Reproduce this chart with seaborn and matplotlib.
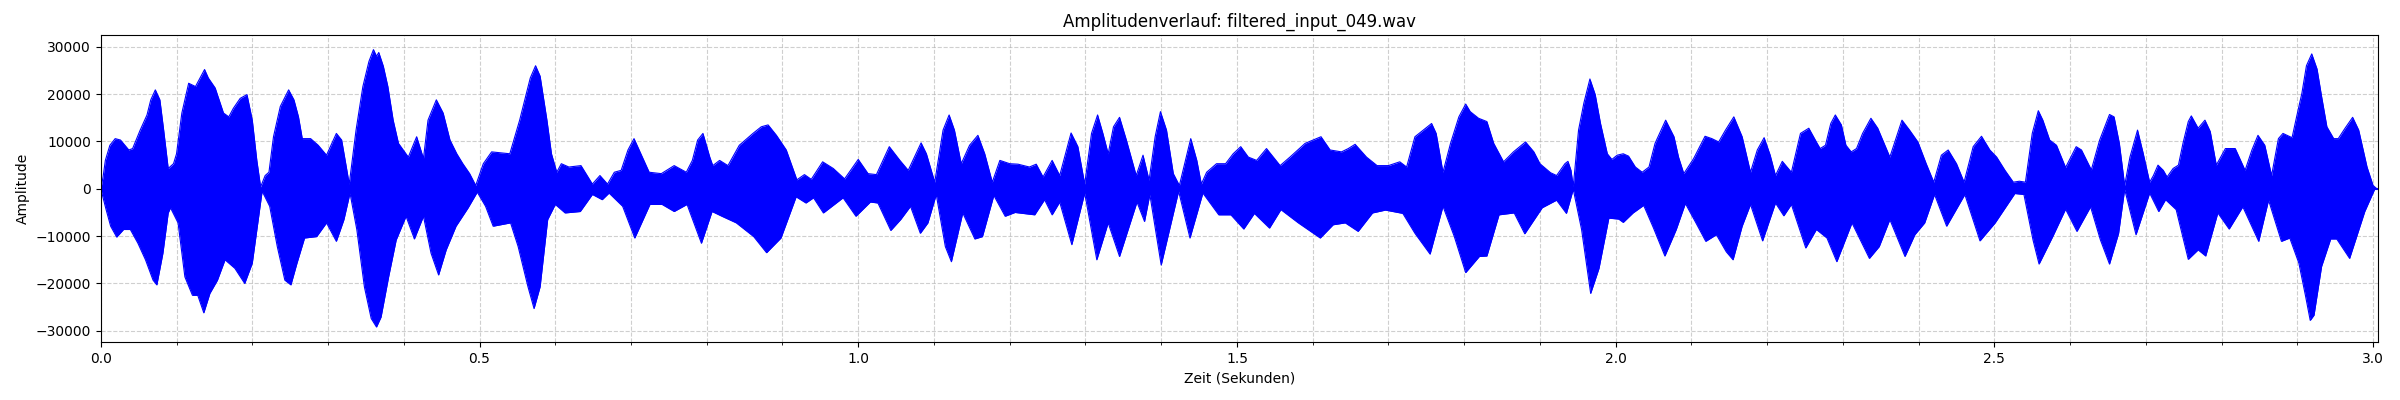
import matplotlib
matplotlib.use("Agg")
import matplotlib.pyplot as plt
from matplotlib.ticker import MultipleLocator
import seaborn as sns
import pandas as pd

# Envelope of the waveform (time in s, amplitude)
upper_t = [0.000, 0.003, 0.006, 0.012, 0.019, 0.026, 0.037, 0.042, 0.052, 0.061, 0.066, 0.072, 0.078, 0.083, 0.089, 0.096,
           0.100, 0.107, 0.116, 0.125, 0.131, 0.137, 0.142, 0.151, 0.162, 0.169, 0.175, 0.184, 0.193, 0.200, 0.206, 0.211,
           0.217, 0.222, 0.228, 0.237, 0.248, 0.255, 0.261, 0.266, 0.277, 0.287, 0.298, 0.311, 0.318, 0.328, 0.337, 0.346,
           0.354, 0.360, 0.364, 0.367, 0.373, 0.379, 0.386, 0.393, 0.406, 0.417, 0.426, 0.432, 0.443, 0.452, 0.461, 0.470,
           0.478, 0.487, 0.495, 0.505, 0.516, 0.540, 0.553, 0.567, 0.574, 0.580, 0.589, 0.595, 0.602, 0.608, 0.618, 0.634,
           0.649, 0.659, 0.669, 0.678, 0.687, 0.696, 0.704, 0.713, 0.724, 0.740, 0.757, 0.773, 0.781, 0.788, 0.795, 0.804,
           0.808, 0.817, 0.828, 0.843, 0.861, 0.872, 0.881, 0.892, 0.905, 0.919, 0.929, 0.938, 0.953, 0.967, 0.982, 1.000,
           1.013, 1.024, 1.041, 1.055, 1.066, 1.083, 1.090, 1.101, 1.112, 1.120, 1.127, 1.136, 1.147, 1.158, 1.167, 1.177,
           1.187, 1.200, 1.211, 1.226, 1.235, 1.244, 1.256, 1.266, 1.281, 1.290, 1.299, 1.308, 1.316, 1.323, 1.330, 1.337,
           1.345, 1.354, 1.367, 1.376, 1.384, 1.392, 1.399, 1.407, 1.416, 1.424, 1.433, 1.439, 1.447, 1.453, 1.460, 1.473,
           1.485, 1.495, 1.505, 1.515, 1.526, 1.539, 1.557, 1.570, 1.590, 1.611, 1.623, 1.638, 1.647, 1.656, 1.671, 1.685,
           1.700, 1.715, 1.724, 1.735, 1.746, 1.757, 1.763, 1.772, 1.782, 1.793, 1.802, 1.808, 1.819, 1.830, 1.839, 1.852,
           1.865, 1.881, 1.892, 1.900, 1.914, 1.922, 1.933, 1.937, 1.941, 1.944, 1.951, 1.958, 1.966, 1.973, 1.980, 1.989,
           1.995, 2.002, 2.010, 2.017, 2.026, 2.035, 2.044, 2.052, 2.066, 2.077, 2.083, 2.090, 2.103, 2.118, 2.127, 2.136,
           2.145, 2.156, 2.167, 2.178, 2.187, 2.196, 2.204, 2.211, 2.220, 2.232, 2.244, 2.255, 2.266, 2.270, 2.277, 2.284,
           2.290, 2.298, 2.304, 2.311, 2.318, 2.326, 2.337, 2.346, 2.362, 2.370, 2.378, 2.388, 2.399, 2.410, 2.420, 2.430,
           2.439, 2.450, 2.460, 2.472, 2.483, 2.494, 2.503, 2.514, 2.525, 2.533, 2.541, 2.550, 2.558, 2.564, 2.573, 2.582,
           2.594, 2.608, 2.615, 2.628, 2.639, 2.652, 2.658, 2.665, 2.672, 2.679, 2.689, 2.696, 2.705, 2.710, 2.716, 2.723,
           2.728, 2.736, 2.743, 2.749, 2.756, 2.760, 2.769, 2.778, 2.785, 2.793, 2.805, 2.818, 2.824, 2.831, 2.840, 2.848,
           2.857, 2.866, 2.875, 2.881, 2.893, 2.899, 2.906, 2.912, 2.919, 2.926, 2.932, 2.939, 2.948, 2.954, 2.963, 2.973,
           2.981, 2.992, 3.000, 3.005]
upper_v = [0, 2500, 6000, 9200, 10600, 10300, 8200, 8500, 12400, 15600, 18800, 20900, 18800, 12400, 4300, 5300,
           7400, 16000, 22300, 21600, 23400, 25200, 23400, 21300, 16000, 15200, 17000, 19100, 19900, 14500, 6000, 400,
           2800, 3500, 11000, 17400, 20900, 18800, 15200, 10600, 10600, 9200, 7100, 11700, 10300, 1000, 12400, 21600,
           26900, 29400, 28000, 28800, 25900, 21600, 14500, 9600, 6700, 11000, 6400, 14500, 18800, 16000, 10300, 7400,
           5300, 3200, 700, 5300, 7800, 7400, 14500, 23400, 26000, 23800, 14500, 7400, 3500, 5300, 4600, 4900,
           1000, 2800, 1000, 3500, 3900, 8200, 10600, 7400, 3500, 3200, 4900, 3500, 6000, 10300, 11700, 6700,
           4900, 6000, 4900, 9200, 11700, 13100, 13500, 11300, 8200, 1900, 3000, 2000, 5700, 4300, 2100, 6200,
           3200, 3000, 8900, 6000, 3900, 9700, 7400, 1400, 12400, 15600, 12400, 5300, 9200, 11300, 7400, 1400,
           6000, 5300, 5200, 4600, 5200, 2500, 6000, 2800, 11800, 8900, 1000, 11700, 15600, 11700, 7400, 13100,
           15100, 10300, 2800, 7100, 1800, 11000, 16300, 12400, 3200, 700, 6700, 10600, 6000, 1000, 3500, 5300,
           5300, 7400, 8900, 6700, 6000, 8500, 4900, 6700, 9600, 11000, 8200, 7800, 8500, 9400, 6700, 4900,
           4900, 5700, 4600, 11000, 12400, 13800, 11700, 3500, 9600, 15200, 17900, 16300, 14900, 14200, 9600, 5700,
           7800, 9900, 7800, 5300, 3400, 2800, 5300, 5800, 3900, 500, 12400, 18100, 23200, 19900, 13800, 7400,
           6200, 7100, 7400, 6900, 4600, 3500, 4600, 9600, 14500, 11000, 6700, 3200, 6400, 11100, 10600, 9900,
           12400, 15200, 11000, 3500, 8200, 10800, 7100, 2800, 5800, 3500, 11700, 12800, 9600, 8500, 9200, 13800,
           15600, 13500, 9200, 7800, 8500, 11700, 14900, 12800, 6700, 10600, 14500, 12400, 9900, 5300, 1400, 7100,
           8200, 5300, 1400, 8900, 11100, 8200, 6700, 3900, 1400, 1600, 1400, 11700, 16500, 14500, 10300, 9200,
           4500, 8900, 8200, 4000, 10300, 15700, 15200, 9600, 700, 6700, 12400, 7800, 1400, 2800, 5000, 3900,
           2500, 4300, 5000, 9600, 14200, 15400, 12800, 14500, 12100, 5000, 8500, 8500, 6400, 3900, 8200, 11300,
           9200, 2800, 10600, 11700, 10800, 15200, 20200, 26000, 28500, 25300, 19500, 13100, 10600, 10600, 12800, 15100,
           12400, 4600, 700, 0]

lower_t = [0.000, 0.007, 0.013, 0.021, 0.030, 0.039, 0.049, 0.059, 0.069, 0.074, 0.082, 0.089, 0.092, 0.102, 0.111, 0.121,
           0.128, 0.136, 0.144, 0.154, 0.164, 0.177, 0.190, 0.200, 0.213, 0.223, 0.233, 0.243, 0.251, 0.259, 0.269, 0.285,
           0.298, 0.311, 0.321, 0.329, 0.338, 0.348, 0.357, 0.364, 0.370, 0.380, 0.390, 0.403, 0.414, 0.426, 0.436, 0.446,
           0.456, 0.469, 0.485, 0.497, 0.508, 0.518, 0.541, 0.551, 0.564, 0.572, 0.580, 0.590, 0.600, 0.613, 0.633, 0.649,
           0.662, 0.671, 0.689, 0.705, 0.725, 0.741, 0.757, 0.774, 0.793, 0.807, 0.820, 0.839, 0.862, 0.879, 0.898, 0.918,
           0.931, 0.941, 0.954, 0.980, 0.997, 1.016, 1.026, 1.043, 1.056, 1.069, 1.082, 1.092, 1.103, 1.115, 1.123, 1.138,
           1.154, 1.164, 1.179, 1.194, 1.207, 1.233, 1.246, 1.256, 1.266, 1.282, 1.299, 1.315, 1.330, 1.345, 1.368, 1.378,
           1.385, 1.400, 1.423, 1.438, 1.455, 1.476, 1.492, 1.509, 1.523, 1.543, 1.558, 1.581, 1.610, 1.627, 1.643, 1.660,
           1.679, 1.696, 1.719, 1.735, 1.755, 1.772, 1.787, 1.802, 1.820, 1.830, 1.846, 1.866, 1.880, 1.903, 1.922, 1.935,
           1.944, 1.955, 1.967, 1.978, 1.991, 2.004, 2.010, 2.023, 2.037, 2.050, 2.065, 2.080, 2.092, 2.106, 2.119, 2.133,
           2.146, 2.155, 2.167, 2.178, 2.194, 2.211, 2.222, 2.232, 2.251, 2.265, 2.279, 2.292, 2.312, 2.335, 2.348, 2.362,
           2.382, 2.395, 2.408, 2.421, 2.437, 2.461, 2.481, 2.501, 2.527, 2.539, 2.551, 2.559, 2.577, 2.594, 2.609, 2.627,
           2.640, 2.652, 2.664, 2.672, 2.687, 2.705, 2.717, 2.726, 2.740, 2.756, 2.769, 2.779, 2.795, 2.810, 2.828, 2.849,
           2.862, 2.879, 2.890, 2.902, 2.911, 2.917, 2.922, 2.932, 2.944, 2.952, 2.969, 2.989, 3.002]
lower_v = [0, -4400, -7900, -10200, -8600, -8600, -11500, -15000, -19300, -20300, -13600, -5100, -4000, -7200, -18600, -22500,
           -22500, -26200, -22100, -19300, -15000, -16800, -20000, -15700, -500, -3700, -12200, -19300, -20300, -15700, -10400, -10100,
           -7200, -11100, -6500, -900, -8600, -20700, -27400, -29200, -27100, -18600, -10800, -5800, -10600, -5800, -13600, -18200,
           -12900, -7900, -4000, -700, -3700, -7900, -7200, -12200, -20700, -25300, -20700, -6500, -3300, -5100, -4800, -1200,
           -2300, -900, -3700, -10400, -3300, -3300, -4800, -3300, -11500, -4800, -5800, -7200, -10100, -13500, -10400, -1700,
           -3000, -1900, -5100, -1900, -5800, -2800, -3000, -8800, -6500, -3700, -9400, -7200, -1200, -12200, -15400, -5100,
           -10600, -10100, -1400, -5800, -5000, -5500, -2300, -5500, -2800, -11800, -900, -15000, -7200, -14300, -2800, -6900,
           -1200, -16100, -500, -10400, -900, -5500, -5500, -8500, -5200, -8300, -4400, -7200, -10400, -7600, -7200, -9000,
           -5100, -4500, -5200, -9400, -13800, -3700, -10100, -17700, -14300, -14200, -5500, -5100, -9500, -4000, -2400, -5200,
           -100, -8600, -22100, -16800, -6200, -6400, -7100, -5100, -3500, -8300, -14200, -8600, -3100, -7200, -11100, -9700,
           -13300, -15000, -7900, -3300, -11000, -3000, -5700, -3300, -12500, -8600, -10400, -15400, -7200, -14700, -12200, -6500,
           -14300, -9700, -7200, -1200, -7900, -1200, -11000, -7200, -1000, -1200, -10800, -15900, -10100, -4300, -9000, -3800,
           -10800, -15900, -9400, -100, -9700, -900, -4800, -2300, -4400, -14900, -12900, -14200, -5100, -8500, -3800, -11100,
           -2400, -11100, -10400, -15700, -22800, -27800, -26700, -16400, -10600, -10600, -14700, -4800, -100]

title_text = "Amplitudenverlauf: filtered_input_049.wav"
x_label = "Zeit (Sekunden)"
y_label = "Amplitude"

upper_df = pd.DataFrame({"Zeit": upper_t, "Amplitude": upper_v})
lower_df = pd.DataFrame({"Zeit": lower_t, "Amplitude": lower_v})

fig = plt.figure(figsize=(24, 4), dpi=100)
ax = fig.add_axes([0.042, 0.144, 0.949, 0.768])

wave_color = "#0000ff"
ax.fill_between(upper_df["Zeit"], 0, upper_df["Amplitude"], color=wave_color, linewidth=0)
ax.fill_between(lower_df["Zeit"], lower_df["Amplitude"], 0, color=wave_color, linewidth=0)
sns.lineplot(data=upper_df, x="Zeit", y="Amplitude", color=wave_color, linewidth=0.8,
             sort=False, estimator=None, ax=ax)
sns.lineplot(data=lower_df, x="Zeit", y="Amplitude", color=wave_color, linewidth=0.8,
             sort=False, estimator=None, ax=ax)
ax.axhline(0, color=wave_color, linewidth=1.5, zorder=2)

ax.set_xlim(0, 3.007)
ax.set_ylim(-32450, 32450)
ax.xaxis.set_major_locator(MultipleLocator(0.5))
ax.xaxis.set_minor_locator(MultipleLocator(0.1))
ax.yaxis.set_major_locator(MultipleLocator(10000))
ax.grid(True, which="both", linestyle="--", alpha=0.6)
ax.set_axisbelow(True)

ax.set_title(title_text)
ax.set_xlabel(x_label)
ax.set_ylabel(y_label)

fig.savefig("out.png", dpi=100)
